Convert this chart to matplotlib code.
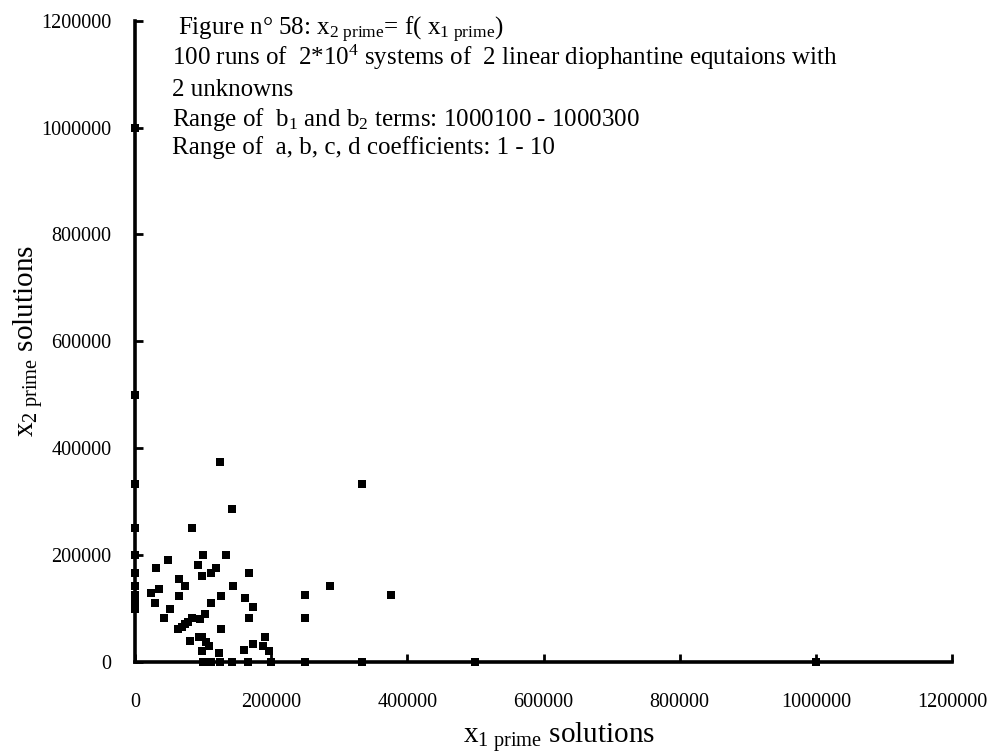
import matplotlib
matplotlib.use("Agg")
import matplotlib.pyplot as plt

plt.rcParams['font.family'] = ['Liberation Serif', 'DejaVu Serif']
plt.rcParams['mathtext.fontset'] = 'custom'
plt.rcParams['mathtext.rm'] = 'Liberation Serif'
plt.rcParams['mathtext.it'] = 'Liberation Serif'

# x1 prime solutions and x2 prime solutions
x1_prime = [
    0, 0, 0, 0, 0, 0, 0, 0, 0, 0,
    1000000, 500000, 333333, 250000, 200000, 166667, 142857, 125000, 111111, 105000, 100000,
    125000, 333333, 142857, 83333, 100000, 133333, 49000, 31000, 92000, 119000,
    111600, 98000, 168000, 64000, 73000, 144000, 286000, 35700, 23000, 64000,
    126000, 250000, 376000, 161500, 29000, 112000, 174000, 51000, 103000, 43000,
    95400, 168000, 250000, 63600, 68500, 73400, 78300, 83700, 126000, 191000,
    81000, 94000, 99000, 104000, 109000, 174000, 187500, 99000, 160500, 197000, 124000,
]
x2_prime = [
    1000000, 500000, 333333, 250000, 200000, 166667, 142857, 125000, 111111, 100000,
    0, 0, 0, 0, 0, 0, 0, 0, 0, 0, 0,
    375000, 333333, 285714, 250000, 200000, 200000, 190000, 175700, 181000, 175700,
    166400, 160000, 166000, 155000, 141400, 141400, 142000, 136400, 130000, 124000,
    124000, 125000, 125000, 119000, 111000, 111000, 102800, 98500, 89000, 82900,
    80000, 82900, 83000, 61000, 66000, 71000, 75400, 82900, 61700, 46700,
    39000, 46700, 46700, 37000, 30000, 33600, 30500, 20600, 22400, 20600, 16000,
]

x_ticks = [0, 200000, 400000, 600000, 800000, 1000000, 1200000]
y_ticks = [0, 200000, 400000, 600000, 800000, 1000000, 1200000]

W, H = 994, 756
fig = plt.figure(figsize=(W/100, H/100), dpi=100)
x0, x1, y0, y1 = 135, 952, 662, 20.7
ax = fig.add_axes([x0/W, 1 - y0/H, (x1-x0)/W, (y0-y1)/H])

ax.scatter(x1_prime, x2_prime, marker='s', s=30, color='black', linewidths=0, zorder=3, clip_on=False)

ax.set_xlim(0, 1200000)
ax.set_ylim(0, 1200000)
ax.set_xticks(x_ticks)
ax.set_yticks(y_ticks)
ax.set_xticklabels([str(v) for v in x_ticks])
ax.set_yticklabels([str(v) for v in y_ticks])
for s in ['top', 'right']:
    ax.spines[s].set_visible(False)
for s in ['left', 'bottom']:
    ax.spines[s].set_linewidth(2.6)
    ax.spines[s].set_color('black')
ax.tick_params(direction='in', length=6, width=2, labelsize=14.5, colors='black')
ax.tick_params(axis='x', pad=22)
ax.tick_params(axis='y', pad=17)

ax.set_xlabel(r'x$_{\mathregular{1\ prime}}$ solutions', fontsize=21)
ax.set_ylabel(r'x$_{\mathregular{2\ prime}}$ solutions', fontsize=21)
ax.xaxis.set_label_coords((559 - x0)/(x1 - x0), (y0 - 720)/(y0 - y1))
ax.yaxis.set_label_coords((45 - x0)/(x1 - x0), 0.5)

lines = [
    (178, 35, r'Figure n° 58: x$_{\mathregular{2\ prime}}$= f( x$_{\mathregular{1\ prime}}$)'),
    (172, 65, r'100 runs of  2*10$^{\mathregular{4}}$ systems of  2 linear diophantine equtaions with'),
    (172, 96, '2 unknowns'),
    (172, 126, r'Range of  b$_{\mathregular{1}}$ and b$_{\mathregular{2}}$ terms: 1000100 - 1000300'),
    (172, 154, 'Range of  a, b, c, d coefficients: 1 - 10'),
]
for px, py, t in lines:
    fig.text(px/W, 1 - py/H, t, fontsize=18, ha='left', va='baseline', color='black')

fig.savefig('out.png', dpi=100)
